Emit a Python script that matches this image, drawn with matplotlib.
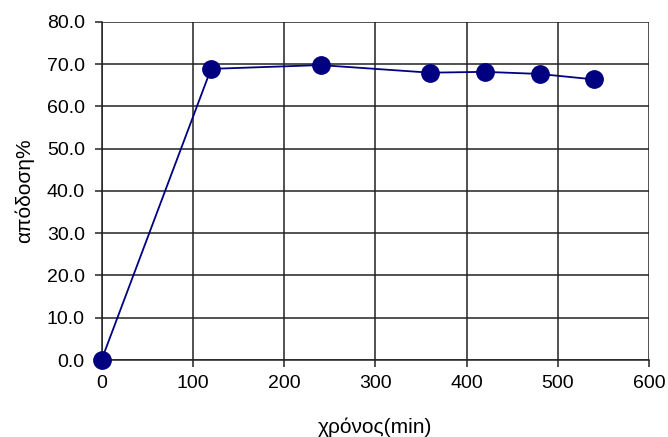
import matplotlib
matplotlib.use("Agg")
import matplotlib.pyplot as plt

plt.rcParams['font.family'] = ['Liberation Sans', 'DejaVu Sans']

time_min = [0, 120, 240, 360, 420, 480, 540]
yield_pct = [0.0, 68.9, 69.8, 68.0, 68.2, 67.7, 66.4]
x_ticks = [0, 100, 200, 300, 400, 500, 600]
y_ticks = [0, 10, 20, 30, 40, 50, 60, 70, 80]

fig = plt.figure(figsize=(6.68, 4.37), dpi=100)
ax = fig.add_axes([0.152, 0.1762, 0.8196, 0.7735])

ax.plot(time_min, yield_pct, color='#000080', linewidth=1.3,
        marker='o', markersize=12.5, markerfacecolor='#000080',
        markeredgecolor='#000080', clip_on=False, zorder=3)

ax.set_xlim(0, 600)
ax.set_ylim(0, 80)
ax.set_xticks(x_ticks)
ax.set_yticks(y_ticks)
ax.set_yticklabels([f"{v:.1f}" for v in y_ticks])
ax.grid(True, color='#222222', linewidth=1.1)
ax.set_axisbelow(True)
for side in ['top', 'right']:
    ax.spines[side].set_visible(False)
for side in ['left', 'bottom']:
    ax.spines[side].set_color('#222222')
    ax.spines[side].set_linewidth(1.1)
ax.tick_params(axis='both', labelsize=14, length=5, width=1.1, color='#222222')
ax.tick_params(axis='x', pad=6)
ax.tick_params(axis='y', pad=7)

ax.set_xlabel('χρόνος(min)', fontsize=15, labelpad=18)
ax.set_ylabel('απόδοση%', fontsize=15, labelpad=9)

fig.savefig('out.png', dpi=100)
